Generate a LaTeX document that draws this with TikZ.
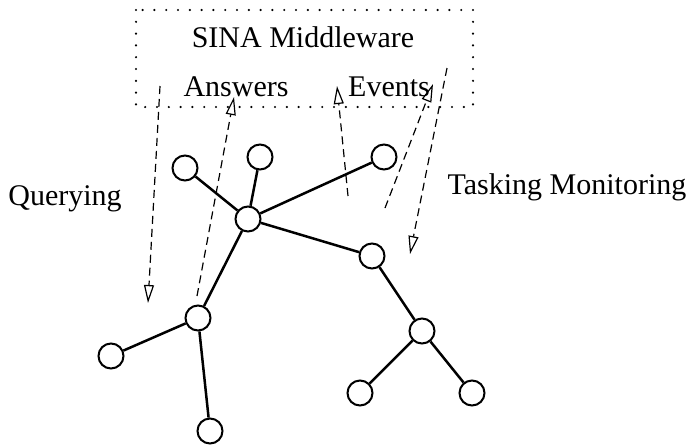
\documentclass[tikz,border=0pt]{standalone}
\usepackage{fontspec}
\setmainfont{Liberation Serif}
\usetikzlibrary{arrows.meta}
\begin{document}
\begin{tikzpicture}[x=0.5pt,y=-0.5pt,
  vert/.style={circle,draw,line width=1pt,minimum size=12.5pt,inner sep=0pt},
  link/.style={line width=1.25pt},
  flow/.style={dashed,line width=0.6pt,dash pattern=on 4pt off 2.5pt,
     -{Triangle[open,length=9pt,width=5pt,line width=0.6pt]}},
  lbl/.style={font=\fontsize{15}{18}\selectfont,inner sep=0pt}]
\useasboundingbox (0,0) rectangle (688,445);
\draw[line width=1.2pt,line cap=round,dash pattern=on 0pt off 5.9pt] (136,10) rectangle (473,107);
\node[lbl] (title) at (303,37) {SINA Middleware};
\node[lbl] (ans) at (236,87) {Answers};
\node[lbl] (ev) at (389,87) {Events};
\node[lbl] (q) at (65,199) {Querying};
\node[lbl] (tm) at (567,187) {Tasking Monitoring};
\node[vert] (n1) at (185,168) {};
\node[vert] (n2) at (260,157) {};
\node[vert] (n3) at (248,219) {};
\node[vert] (n4) at (384,157) {};
\node[vert] (n5) at (372,256) {};
\node[vert] (n6) at (198,318) {};
\node[vert] (n7) at (422,331) {};
\node[vert] (n8) at (111,356) {};
\node[vert] (n9) at (210,431) {};
\node[vert] (n10) at (360,393) {};
\node[vert] (n11) at (472,393) {};
\draw[link] (n1) -- (n3);
\draw[link] (n2) -- (n3);
\draw[link] (n4) -- (n3);
\draw[link] (n3) -- (n5);
\draw[link] (n3) -- (n6);
\draw[link] (n6) -- (n8);
\draw[link] (n6) -- (n9);
\draw[link] (n5) -- (n7);
\draw[link] (n7) -- (n10);
\draw[link] (n7) -- (n11);
\coordinate (qs) at (160,86);
\coordinate (qe) at (148,303);
\coordinate (as) at (197,296);
\coordinate (ae) at (234,97);
\coordinate (es) at (348,196);
\coordinate (ee) at (337,86);
\coordinate (fs) at (385,208);
\coordinate (fe) at (433,84);
\coordinate (ts) at (447,68);
\coordinate (te) at (410,254);
\draw[flow] (qs) -- (qe);
\draw[flow] (as) -- (ae);
\draw[flow] (es) -- (ee);
\draw[flow] (fs) -- (fe);
\draw[flow] (ts) -- (te);
\end{tikzpicture}
\end{document}
